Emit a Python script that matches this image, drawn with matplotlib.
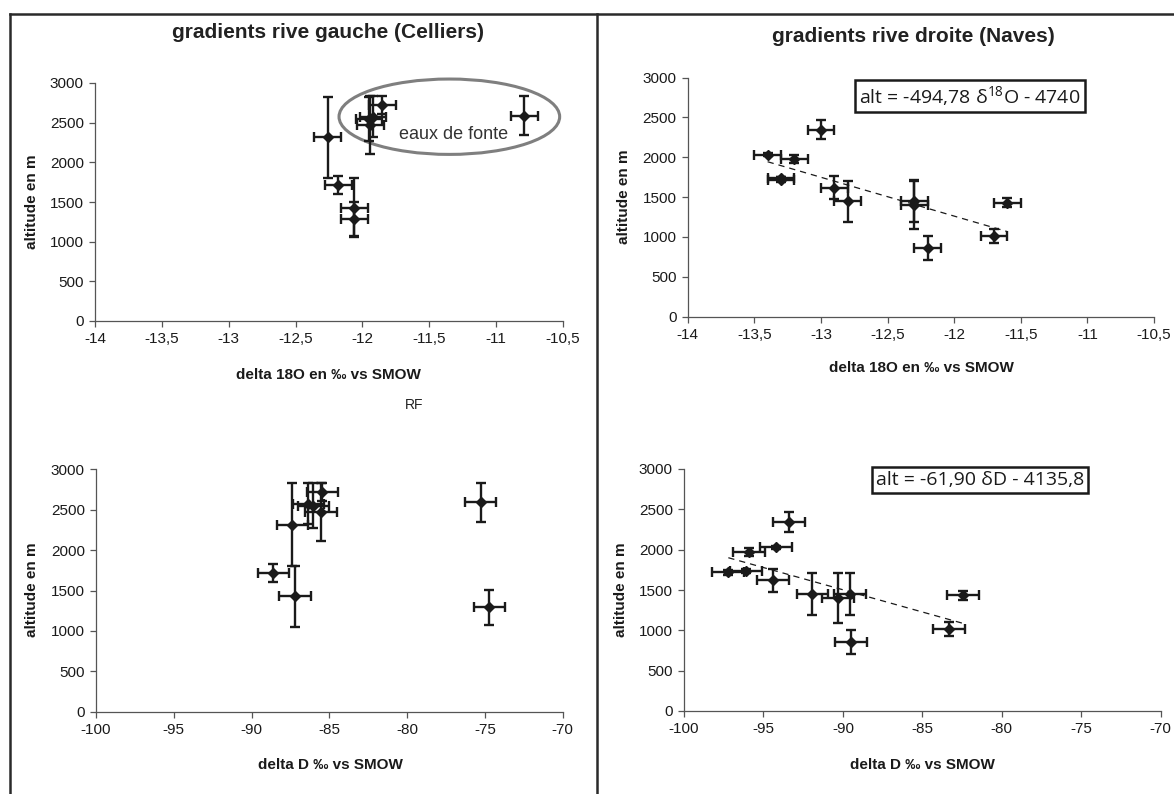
import numpy as np
import matplotlib
matplotlib.use("Agg")
import matplotlib.pyplot as plt
from matplotlib.patches import Ellipse
from matplotlib.lines import Line2D

plt.rcParams['font.family'] = ['Liberation Sans', 'DejaVu Sans']
plt.rcParams['mathtext.default'] = 'regular'

# rive gauche (Celliers)
alt_g = [2721, 2575, 2550, 2471, 2316, 1720, 1430, 2590, 1290]
alt_g_err = [110, 255, 275, 360, 510, 113, 376, 243, 216]
d18o_g = [-11.85, -11.92, -11.95, -11.94, -12.26, -12.18, -12.06, -10.79, -12.06]
dd_g = [-85.45, -86.35, -86.03, -85.54, -87.38, -88.6, -87.21, -75.27, -74.72]

# rive droite (Naves)
alt_d = [2030, 1975, 2345, 1720, 1735, 1620, 1450, 1450, 1405, 860, 1015, 1432]
alt_d_err = [20, 50, 120, 30, 20, 143, 258, 258, 310, 150, 88, 60]
d18o_d = [-13.4, -13.2, -13.0, -13.3, -13.3, -12.9, -12.8, -12.3, -12.3, -12.2, -11.7, -11.6]
dd_d = [-94.21, -95.89, -93.37, -97.21, -96.1, -94.38, -91.92, -89.55, -90.33, -89.49, -83.32, -82.42]

err_18o = 0.1
err_d = 1.0

ticks_18o = [-14, -13.5, -13, -12.5, -12, -11.5, -11, -10.5]
labels_18o = ['-14', '-13,5', '-13', '-12,5', '-12', '-11,5', '-11', '-10,5']
ticks_d = [-100, -95, -90, -85, -80, -75, -70]
labels_d = ['-100', '-95', '-90', '-85', '-80', '-75', '-70']
ticks_alt = [0, 500, 1000, 1500, 2000, 2500, 3000]

W, H = 1174, 794
fig = plt.figure(figsize=(W / 100, H / 100), dpi=100)


def box(x0, x1, y0, y1):
    # pixel box -> figure fraction
    return [x0 / W, 1 - y1 / H, (x1 - x0) / W, (y1 - y0) / H]


def pt(x, y):
    return x / W, 1 - y / H


def setup(ax, ticks, labels, xlim):
    ax.set_xlim(xlim)
    ax.set_ylim(0, 3000)
    ax.set_xticks(ticks)
    ax.set_xticklabels(labels)
    ax.set_yticks(ticks_alt)
    for s in ['top', 'right']:
        ax.spines[s].set_visible(False)
    for s in ['left', 'bottom']:
        ax.spines[s].set_color('#555555')
        ax.spines[s].set_linewidth(0.9)
    ax.tick_params(direction='out', length=4, width=0.9, color='#555555',
                   labelsize=11, pad=4, labelcolor='#1a1a1a')
    ax.patch.set_alpha(0)


def points(ax, x, y, xe, ye):
    ax.errorbar(x, y, xerr=xe, yerr=ye, fmt='D', color='#1a1a1a', ms=5.5,
                elinewidth=1.7, capsize=3.8, capthick=1.7, zorder=3)


def trend(ax, x, y):
    a, b = np.polyfit(x, y, 1)
    xs = np.array([min(x), max(x)])
    ax.plot(xs, a * xs + b, color='#1a1a1a', lw=0.9, dashes=(5, 4), zorder=2)


ax1 = fig.add_axes(box(95, 563, 83, 321))
setup(ax1, ticks_18o, labels_18o, (-14, -10.5))
points(ax1, d18o_g, alt_g, err_18o, alt_g_err)
ax1.add_patch(Ellipse((-11.35, 2575), 1.65, 950, fill=False, ec='#7f7f7f',
                      lw=2.2, clip_on=False))
ax1.text(-11.32, 2346, 'eaux de fonte', ha='center', va='center', fontsize=13,
         color='#333333')

ax2 = fig.add_axes(box(687.7, 1154, 77.5, 316.7))
setup(ax2, ticks_18o, labels_18o, (-14, -10.5))
trend(ax2, d18o_d, alt_d)
points(ax2, d18o_d, alt_d, err_18o, alt_d_err)

ax3 = fig.add_axes(box(96, 562.7, 469.3, 711.7))
setup(ax3, ticks_d, labels_d, (-100, -70))
points(ax3, dd_g, alt_g, err_d, alt_g_err)

ax4 = fig.add_axes(box(684, 1160.7, 469, 711))
setup(ax4, ticks_d, labels_d, (-100, -70))
trend(ax4, dd_d, alt_d)
points(ax4, dd_d, alt_d, err_d, alt_d_err)

# titles and axis labels
fig.text(*pt(328, 33), 'gradients rive gauche (Celliers)', ha='center', va='center',
         fontsize=15, fontweight='bold', color='#222222')
fig.text(*pt(913, 37), 'gradients rive droite (Naves)', ha='center', va='center',
         fontsize=15, fontweight='bold', color='#222222')
lab = dict(fontsize=11, fontweight='bold', color='#1a1a1a', ha='center', va='center')
fig.text(*pt(32, 202), 'altitude en m', rotation=90, **lab)
fig.text(*pt(624, 197), 'altitude en m', rotation=90, **lab)
fig.text(*pt(32, 590), 'altitude en m', rotation=90, **lab)
fig.text(*pt(621, 590), 'altitude en m', rotation=90, **lab)
fig.text(*pt(328, 375), 'delta 18O en \u2030 vs SMOW', **lab)
fig.text(*pt(921, 368), 'delta 18O en \u2030 vs SMOW', **lab)
fig.text(*pt(330, 765), 'delta D \u2030 vs SMOW', **lab)
fig.text(*pt(922, 765), 'delta D \u2030 vs SMOW', **lab)
fig.text(*pt(414, 405), 'RF', ha='center', va='center', fontsize=10, color='#222222')

# equations
eq = dict(ha='center', va='center', fontsize=14, family=['Open Sans', 'DejaVu Sans'],
          color='#1a1a1a',
          bbox=dict(boxstyle='square,pad=0.2', fc='white', ec='#1a1a1a', lw=1.8))
fig.text(*pt(970, 96), 'alt = -494,78 \u03b4$^{18}$O - 4740', **eq)
fig.text(*pt(980, 480), 'alt = -61,90 \u03b4D - 4135,8', **eq)

# outer frame
fr = dict(color='#2a2a2a', lw=1.8, transform=fig.transFigure)
fig.add_artist(Line2D([10 / W, 1], [1 - 14 / H, 1 - 14 / H], **fr))
fig.add_artist(Line2D([10 / W, 10 / W], [0, 1 - 14 / H], **fr))
fig.add_artist(Line2D([597 / W, 597 / W], [0, 1 - 14 / H], **fr))

fig.savefig('out.png', dpi=100)
